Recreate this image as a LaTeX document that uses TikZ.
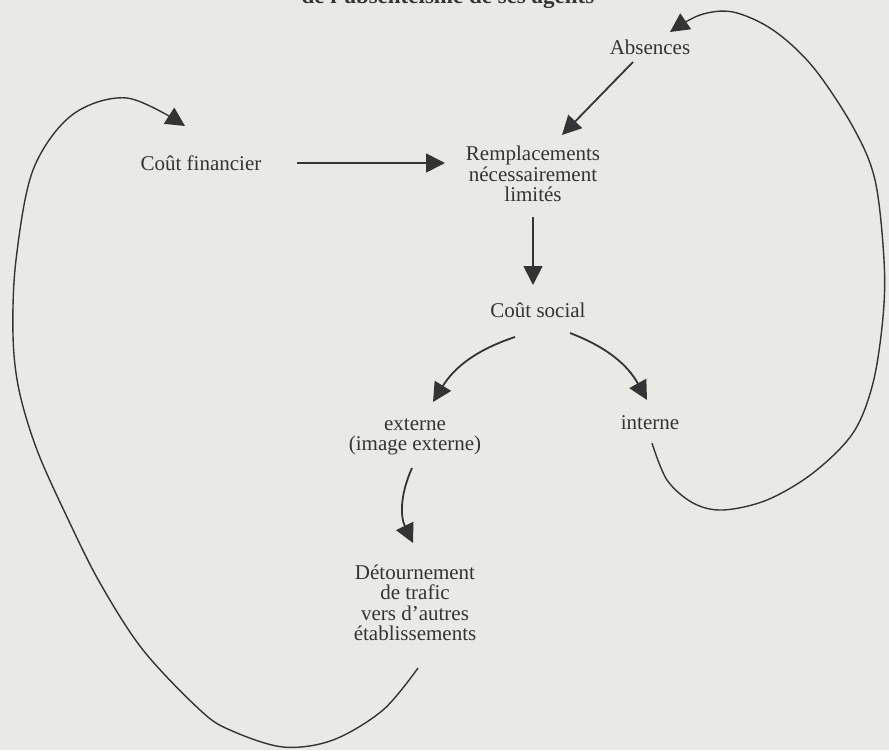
\documentclass[tikz,border=0pt]{standalone}
\usepackage{fontspec}
\setmainfont{Liberation Serif}
\usetikzlibrary{arrows.meta}
\definecolor{bgc}{RGB}{233,233,229}
\definecolor{ink}{RGB}{52,52,52}
\tikzset{
  lbl/.style={inner sep=0pt, align=center, text=ink, font=\fontsize{21}{20.5}\selectfont},
  ttl/.style={inner sep=0pt, text=ink, font=\fontsize{23}{24}\selectfont\bfseries},
  arr/.style={draw=ink, line width=1.8pt, -{Triangle[length=19pt,width=19pt]}},
  looparr/.style={arr, line width=1.4pt},
}
\begin{document}
\begin{tikzpicture}[x=1pt,y=-1pt]
\fill[bgc] (0,0) rectangle (889,750);
\useasboundingbox (0,0) rectangle (889,750);

\node[ttl, anchor=base] (title) at (448,3) {de l’absentéisme de ses agents};
\node[lbl] (abs) at (650,47) {Absences};
\node[lbl] (cf) at (201,163) {Coût financier};
\node[lbl] (rep) at (533,174) {Remplacements\\nécessairement\\limités};
\node[lbl] (cs) at (538,310) {Coût social};
\node[lbl] (ext) at (415,437) {externe\\(image externe)};
\node[lbl] (int) at (650,423) {interne};
\node[lbl] (det) at (415,603) {Détournement\\de trafic\\vers d’autres\\établissements};

% straight connectors
\draw[arr] ([shift={(96,0)}]cf.center) -- ([shift={(-88,-11)}]rep.center);
\draw[arr] ([shift={(-17,15)}]abs.center) -- ([shift={(29,-39)}]rep.center);
\draw[arr] ([shift={(0,43)}]rep.center) -- ([shift={(-5,-25)}]cs.center);

% curved connectors
\draw[arr] ([shift={(-23,27)}]cs.center) to[bend right=20] ([shift={(18,-35)}]ext.center);
\draw[arr] ([shift={(32,23)}]cs.center) to[bend left=20] ([shift={(-3,-23)}]int.center);
\draw[arr] ([shift={(-3,31)}]ext.center) to[bend right=25] ([shift={(-2,-60)}]det.center);

% big loops
\coordinate (lstart) at ([shift={(3,65)}]det.center);
\coordinate (lend) at ([shift={(-16,-37)}]cf.center);
\draw[looparr] plot[smooth, tension=0.55] coordinates {(lstart) (383,710) (333,740) (283,747) (230,730) (200,710) (143,650) (100,583) (67,517) (37,450) (19,390) (13,335) (16,260) (33,170) (72,115) (127,98) (lend)};

\coordinate (rstart) at ([shift={(2,20)}]int.center);
\coordinate (rend) at ([shift={(20,-15)}]abs.center);
\draw[looparr] plot[smooth, tension=0.55] coordinates {(rstart) (667,480) (693,503) (723,510) (767,500) (813,473) (853,433) (873,383) (883,317) (884,260) (875,180) (853,127) (813,67) (773,30) (733,12) (700,15) (rend)};
\end{tikzpicture}
\end{document}
